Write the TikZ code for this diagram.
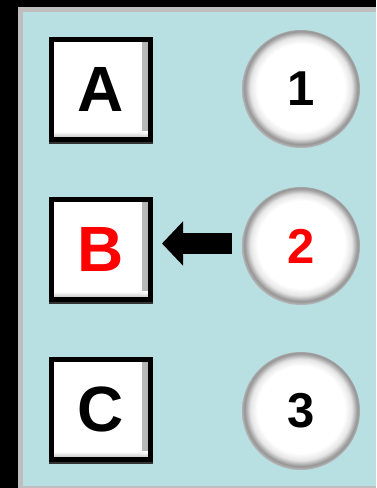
\documentclass[tikz,border=0pt]{standalone}
\usepackage{fontspec}
\setmainfont{Liberation Sans}
\usetikzlibrary{arrows.meta}
\definecolor{bgblue}{RGB}{184,223,226}
\definecolor{frame}{RGB}{190,190,190}
\pgfdeclareradialshading{ballshade}{\pgfpoint{0bp}{1bp}}{color(0bp)=(white); color(18.5bp)=(white); color(21.5bp)=(black!10); color(24bp)=(black!42); color(25bp)=(black!30); color(50bp)=(black!30)}
\tikzset{
  letterbox/.style={draw=black, line width=5pt, fill=white, minimum width=99pt, minimum height=100pt, inner sep=0pt,
    font=\fontsize{64}{64}\selectfont\bfseries,
    path picture={
      \shade[left color=white, right color=black!30] ([xshift=-8pt]path picture bounding box.north east) rectangle (path picture bounding box.south east);
      \shade[top color=white, bottom color=black!30] ([yshift=8pt]path picture bounding box.south west) rectangle (path picture bounding box.south east);
    }},
  ball/.style={circle, minimum size=118pt, inner sep=0pt, shade, shading=ballshade, font=\fontsize{49}{49}\selectfont\bfseries},
  bigarrow/.style={line width=21pt, -{Triangle[length=21pt, width=43pt]}, shorten <=10pt, shorten >=9pt}
}
\begin{document}
\begin{tikzpicture}[x=1pt, y=-1pt]
\useasboundingbox (0,0) rectangle (376,488);
\fill[black] (0,0) rectangle (376,488);
\fill[frame] (18,7) rectangle (376,488);
\fill[bgblue] (23,12) rectangle (376,486);
\node[letterbox] (A) at (101,89.5) {A};
\node[letterbox, text=red] (B) at (101,249.5) {B};
\node[letterbox] (C) at (101,409.5) {C};
\fill[black!80] (A.south west) rectangle ([yshift=-2pt]A.south east);
\fill[black!80] (B.south west) rectangle ([yshift=-2pt]B.south east);
\fill[black!80] (C.south west) rectangle ([yshift=-2pt]C.south east);
\node[ball] (n1) at (301,89) {1};
\node[ball, text=red] (n2) at (301,246) {2};
\node[ball] (n3) at (301,411) {3};
\draw[bigarrow] ([yshift=2.5pt]n2.west) -- ([yshift=2.5pt]n2.west -| B.east);
\end{tikzpicture}
\end{document}
